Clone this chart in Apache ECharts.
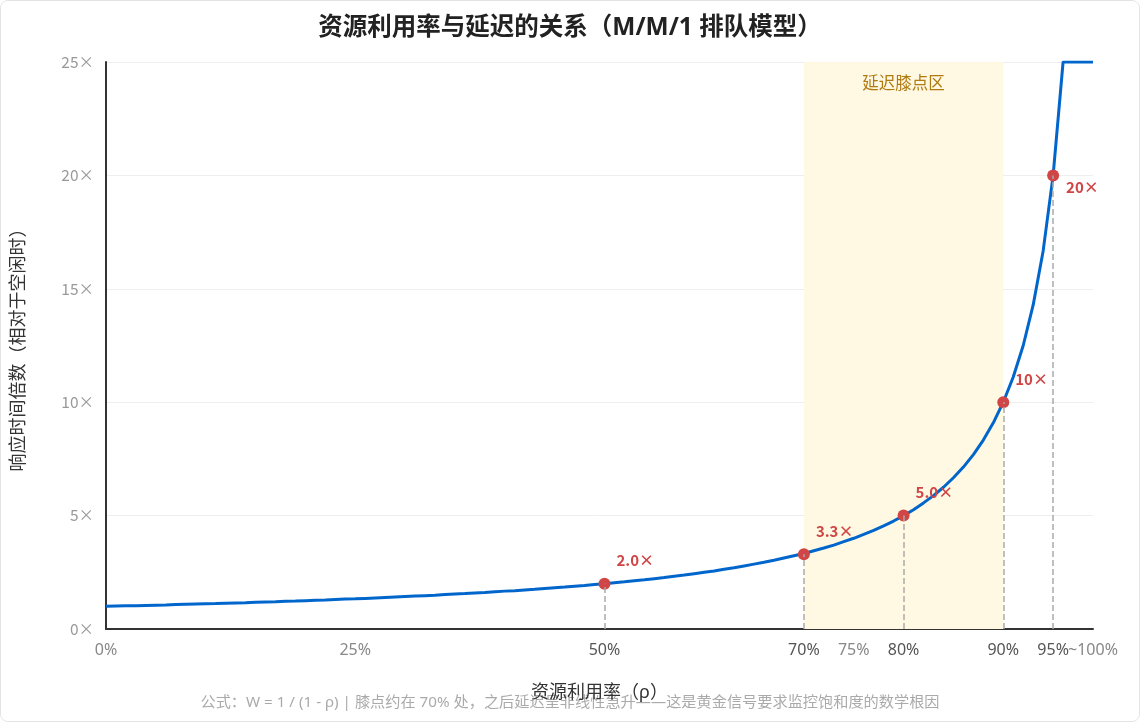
<!DOCTYPE html>
<html>
<head>
<meta charset="utf-8">
<script src="https://cdn.jsdelivr.net/npm/echarts@6/dist/echarts.min.js"></script>
<style>
html,body{margin:0;padding:0;background:#fff;}
#main{position:absolute;left:0;top:0;width:1138px;height:720px;border:1px solid #e3e3e3;border-radius:8px;overflow:hidden;}
</style>
</head>
<body>
<div id="main"></div>
<script>
// Utilization in percent (0..99) – x categories
var utilization = [];
for (var i = 0; i <= 99; i++) utilization.push(i);
// Response time multiple (capped at 25 at the top of the chart)
var responseMultiple = [
1.00,1.01,1.02,1.03,1.04,1.05,1.06,1.08,1.09,1.10,
1.11,1.12,1.14,1.15,1.16,1.18,1.19,1.20,1.22,1.23,
1.25,1.27,1.28,1.30,1.32,1.33,1.35,1.37,1.39,1.41,
1.43,1.45,1.47,1.49,1.52,1.54,1.56,1.59,1.61,1.64,
1.67,1.69,1.72,1.75,1.79,1.82,1.85,1.89,1.92,1.96,
2.00,2.04,2.08,2.13,2.17,2.22,2.27,2.33,2.38,2.44,
2.50,2.56,2.63,2.70,2.78,2.86,2.94,3.03,3.13,3.23,
3.33,3.45,3.57,3.70,3.85,4.00,4.17,4.35,4.55,4.76,
5.00,5.26,5.56,5.88,6.25,6.67,7.14,7.69,8.33,9.09,
10.00,11.11,12.50,14.29,16.67,20.00,25.00,25.00,25.00,25.00
];
// Highlighted knee points
var kneeRho = [50, 70, 80, 90, 95];
var kneeValue = [2.0, 3.3, 5.0, 10, 20];
var kneeLabel = ['2.0×', '3.3×', '5.0×', '10×', '20×'];
// X tick labels shown
var tickPlain = {0:'0%', 25:'25%', 75:'75%', 99:'~100%'};
var tickStrong = {50:'50%', 70:'70%', 80:'80%', 90:'90%', 95:'95%'};
var yTicks = [0, 5, 10, 15, 20, 25];
var kneeZone = [70, 90];

var chart = echarts.init(document.getElementById('main'));
var FONT = '"Noto Sans","Noto Sans CJK SC",sans-serif';
var CJK = '"Noto Sans CJK SC","Noto Sans",sans-serif';

var scatterData = kneeRho.map(function (r, i) {
  var last = i === kneeRho.length - 1;
  return {
    value: [r, kneeValue[i]],
    label: {
      show: true,
      formatter: kneeLabel[i],
      position: 'right',
      distance: last ? 7 : 6,
      offset: last ? [0, 12] : [0, -23]
    }
  };
});
var dropLines = kneeRho.map(function (r, i) {
  return [{coord: [r, 0]}, {coord: [r, kneeValue[i]]}];
});

chart.setOption({
  backgroundColor: '#fff',
  textStyle: {fontFamily: FONT},
  title: {
    text: '资源利用率与延迟的关系（M/M/1 排队模型）',
    left: 'center',
    top: 10,
    textStyle: {fontSize: 24.5, fontWeight: 'bold', color: '#222', fontFamily: FONT}
  },
  grid: {left: 105, right: 46, top: 61, bottom: 92},
  xAxis: {
    type: 'category',
    data: utilization,
    boundaryGap: false,
    name: '资源利用率（ρ）',
    nameLocation: 'middle',
    nameGap: 55,
    nameTextStyle: {fontSize: 18, color: '#333', fontFamily: FONT},
    axisLine: {lineStyle: {color: '#333', width: 2}},
    axisTick: {show: false},
    splitLine: {show: false},
    axisLabel: {
      interval: 0,
      margin: 13,
      fontSize: 16,
      color: '#888',
      fontFamily: FONT,
      formatter: function (v) {
        var k = Number(v);
        if (tickStrong[k] !== undefined) return '{s|' + tickStrong[k] + '}';
        if (tickPlain[k] !== undefined) return tickPlain[k];
        return '';
      },
      rich: {s: {color: '#555', fontSize: 16, fontFamily: FONT}}
    }
  },
  yAxis: {
    type: 'value',
    min: yTicks[0],
    max: yTicks[yTicks.length - 1],
    interval: 5,
    name: '响应时间倍数（相对于空闲时）',
    nameLocation: 'middle',
    nameGap: 78,
    nameTextStyle: {fontSize: 18, color: '#333', fontFamily: FONT},
    axisLine: {show: true, lineStyle: {color: '#333', width: 2}},
    axisTick: {show: false},
    splitLine: {lineStyle: {color: '#eeeeee'}},
    axisLabel: {formatter: '{value}×', fontSize: 15.5, color: '#999', margin: 12, fontFamily: CJK}
  },
  graphic: [{
    type: 'text',
    left: 'center',
    top: 694,
    style: {
      text: '公式：W = 1 / (1 - ρ) | 膝点约在 70% 处，之后延迟呈非线性急升——这是黄金信号要求监控饱和度的数学根因',
      fill: '#aaa',
      fontSize: 15.2,
      fontFamily: FONT
    }
  }],
  series: [
    {
      type: 'line',
      data: responseMultiple,
      showSymbol: false,
      lineStyle: {color: '#0066cc', width: 3},
      itemStyle: {color: '#0066cc'},
      z: 3,
      markArea: {
        silent: true,
        itemStyle: {color: '#fff8e3'},
        label: {
          show: true,
          position: 'insideTop',
          distance: 14,
          color: '#b07a10',
          fontSize: 16.5,
          fontFamily: FONT
        },
        data: [[{name: '延迟膝点区', xAxis: kneeZone[0]}, {xAxis: kneeZone[1]}]]
      }
    },
    {
      type: 'scatter',
      data: scatterData,
      symbolSize: 12,
      itemStyle: {color: '#d04545', opacity: 1},
      label: {color: '#d04545', fontSize: 15, fontWeight: 'bold', fontFamily: CJK},
      z: 4,
      markLine: {
        silent: true,
        symbol: 'none',
        label: {show: false},
        lineStyle: {color: '#aaaaaa', type: 'dashed', width: 1.5},
        data: dropLines
      }
    }
  ]
});
</script>
</body>
</html>
